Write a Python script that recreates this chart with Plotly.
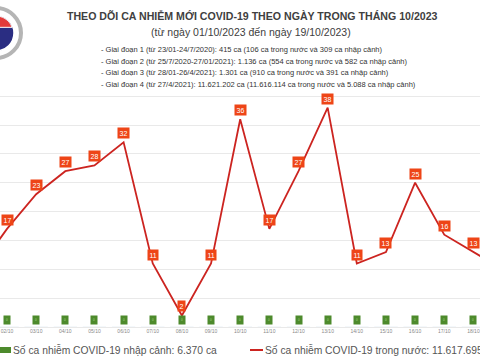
import numpy as np
import plotly.graph_objects as go

dates = ["01/10", "02/10", "03/10", "04/10", "05/10", "06/10", "07/10", "08/10", "09/10", "10/10",
         "11/10", "12/10", "13/10", "14/10", "15/10", "16/10", "17/10", "18/10", "19/10"]
domestic = [10, 17, 23, 27, 28, 32, 11, 2, 11, 36, 17, 27, 38, 11, 13, 25, 16, 13, 10]
imported = [0, 0, 0, 0, 0, 0, 0, 0, 0, 0, 0, 0, 0, 0, 0, 0, 0, 0, 0]

title = "THEO DÕI CA NHIỄM MỚI COVID-19 THEO NGÀY TRONG THÁNG 10/2023"
subtitle = "(từ ngày 01/10/2023 đến ngày 19/10/2023)"
notes = [
    "- Giai đoạn 1 (từ 23/01-24/7/2020): 415 ca (106 ca trong nước và 309 ca nhập cảnh)",
    "- Giai đoạn 2 (từ 25/7/2020-27/01/2021): 1.136 ca (554 ca trong nước và 582 ca nhập cảnh)",
    "- Giai đoạn 3 (từ 28/01-26/4/2021): 1.301 ca (910 ca trong nước và 391 ca nhập cảnh)",
    "- Giai đoạn 4 (từ 27/4/2021): 11.621.202 ca (11.616.114 ca trong nước và 5.088 ca nhập cảnh)",
]
legend_import = "Số ca nhiễm COVID-19 nhập cảnh: 6.370 ca"
legend_domestic = "Số ca nhiễm COVID-19 trong nước: 11.617.695 ca"

W, H = 480, 360
T, B = 95, 33
PH = H - T - B

RED = "#cc2420"
LABEL = "#ee4517"
GREEN = "#4d8a2c"
FONT = "Liberation Sans, Arial, sans-serif"

def px(x):
    return x / W

def py(y):
    return (H - B - y) / PH

x_idx = list(range(len(dates)))

fig = go.Figure()
fig.add_trace(go.Bar(x=x_idx, y=imported, marker_color=GREEN, showlegend=False,
                     hoverinfo="skip"))
fig.add_trace(go.Scatter(x=x_idx, y=domestic, mode="lines",
                         line=dict(color=RED, width=1.8), showlegend=False))

annotations = []
for i, v in enumerate(domestic):
    annotations.append(dict(x=i, y=v, xref="x", yref="y", text=str(v), showarrow=False,
                            yshift=9, bgcolor=LABEL, borderpad=1.5,
                            font=dict(size=7, color="white", family=FONT)))
for i, v in enumerate(imported):
    annotations.append(dict(x=i, y=v, xref="x", yref="y", text=str(v), showarrow=False,
                            yshift=7, bgcolor=GREEN, borderpad=2,
                            font=dict(size=3, color="#a8d890", family=FONT)))

annotations.append(dict(x=px(252), y=py(16), xref="paper", yref="paper", text="<b>" + title + "</b>",
                        showarrow=False, xanchor="center", yanchor="middle",
                        font=dict(size=10.6, color="#404040", family=FONT)))
annotations.append(dict(x=px(251), y=py(32), xref="paper", yref="paper", text=subtitle,
                        showarrow=False, xanchor="center", yanchor="middle",
                        font=dict(size=10.5, color="#404040", family=FONT)))
for t, yy in zip(notes, [49, 61, 72.5, 84]):
    annotations.append(dict(x=px(99), y=py(yy), xref="paper", yref="paper", text=t,
                            showarrow=False, xanchor="left", yanchor="middle",
                            font=dict(size=7.5, color="#333333", family=FONT)))

annotations.append(dict(x=px(11), y=py(350), xref="paper", yref="paper", text=legend_import,
                        showarrow=False, xanchor="left", yanchor="middle",
                        font=dict(size=10.3, color="#555555", family=FONT)))
annotations.append(dict(x=px(263), y=py(350), xref="paper", yref="paper", text=legend_domestic,
                        showarrow=False, xanchor="left", yanchor="middle",
                        font=dict(size=10.3, color="#555555", family=FONT)))

shapes = []
shapes.append(dict(type="rect", xref="paper", yref="paper", x0=px(0), x1=px(11),
                   y0=py(353), y1=py(347), fillcolor=GREEN, line=dict(width=0)))
shapes.append(dict(type="line", xref="paper", yref="paper", x0=px(250), x1=px(263),
                   y0=py(350), y1=py(350), line=dict(color=RED, width=2)))

# logo (partially cropped)
cx, cy = -4, 33
shapes.append(dict(type="circle", xref="paper", yref="paper", x0=px(cx - 25), x1=px(cx + 25),
                   y0=py(cy + 25), y1=py(cy - 25), fillcolor="white",
                   line=dict(color="#b5b5b5", width=4)))
shapes.append(dict(type="circle", xref="paper", yref="paper", x0=px(cx - 18), x1=px(cx + 18),
                   y0=py(cy + 18), y1=py(cy - 18), fillcolor="#2a2d82",
                   line=dict(color="white", width=1.5)))
ang = np.linspace(np.pi + np.arcsin(6 / 18), 2 * np.pi - np.arcsin(6 / 18), 30)
pts = [(cx + 17 * np.cos(a), cy + 17 * np.sin(a)) for a in ang]
path = "M " + " L ".join(f"{px(a):.5f},{py(b):.5f}" for a, b in pts) + " Z"
shapes.append(dict(type="path", xref="paper", yref="paper", path=path,
                   fillcolor="#e23a3a", line=dict(color="white", width=1)))

fig.update_layout(
    width=W, height=H,
    margin=dict(l=0, r=0, t=T, b=B, pad=0),
    paper_bgcolor="white", plot_bgcolor="white",
    xaxis=dict(range=[0.76, 17.226], tickmode="array", tickvals=x_idx, ticktext=dates,
               tickfont=dict(size=5, color="#8a8a8a", family=FONT),
               showgrid=False, zeroline=False, showline=False, ticks="", ticklen=0),
    yaxis=dict(range=[0, 40.2], tickmode="array", tickvals=[0, 5, 10, 15, 20, 25, 30, 35, 40],
               showticklabels=False, showgrid=True,
               gridcolor="#e9e9e9", gridwidth=1, zeroline=True, zerolinecolor="#e9e9e9",
               zerolinewidth=1, showline=False),
    annotations=annotations,
    shapes=shapes,
    showlegend=False,
)

fig.write_html("out.html", config={"displayModeBar": False},
               post_script="document.body.style.margin='0';document.body.style.overflow='hidden';")
